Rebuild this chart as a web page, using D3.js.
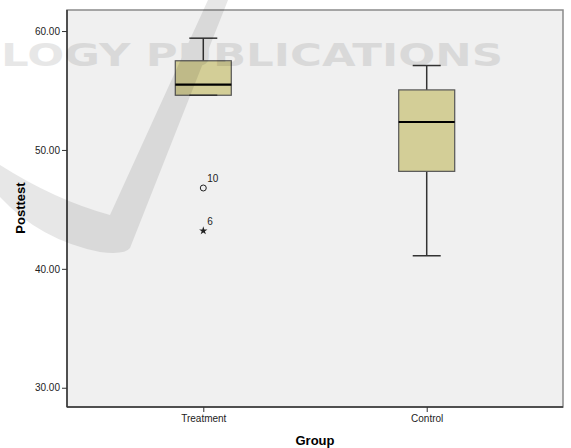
<!DOCTYPE html>
<html>
<head>
<meta charset="utf-8">
<script src="https://cdn.jsdelivr.net/npm/d3@7"></script>
<style>
  body { margin: 0; background: #fff; }
  svg { display: block; font-family: "Liberation Sans", Arial, sans-serif; }
</style>
</head>
<body>
<div id="container"></div>
<script>
var width = 571;
var height = 448;

// values
var groups = ["Treatment", "Control"];
var whiskerLow = [54.6, 41.1];
var q1 = [54.6, 48.2];
var median = [55.5, 52.35];
var q3 = [57.5, 55.05];
var whiskerHigh = [59.4, 57.1];

var outlierGroup = ["Treatment", "Treatment"];
var outlierValue = [46.8, 43.2];
var outlierLabel = ["10", "6"];
var outlierKind = ["circle", "star"];

var yTicks = [30, 40, 50, 60];

var plot = { left: 67, top: 10, right: 563, bottom: 407 };

var y = d3.scaleLinear()
    .domain([28.38, 61.77])
    .range([plot.bottom, plot.top]);

var x = d3.scalePoint()
    .domain(groups)
    .range([plot.left, plot.right])
    .padding(0.61);

var boxW = 56;

var svg = d3.create("svg")
    .attr("width", width)
    .attr("height", height);

// plot background
svg.append("rect")
    .attr("x", plot.left)
    .attr("y", plot.top)
    .attr("width", plot.right - plot.left)
    .attr("height", plot.bottom - plot.top)
    .attr("fill", "#f0f0f0")
    .attr("stroke", "#8a8a8a")
    .attr("stroke-width", 1.5);

// boxes
var data = groups.map(function(g, i) {
    return { g: g, lo: whiskerLow[i], q1: q1[i], med: median[i], q3: q3[i], hi: whiskerHigh[i] };
});

var box = svg.selectAll(".box").data(data).enter().append("g")
    .attr("class", "box")
    .attr("transform", function(d) { return "translate(" + x(d.g) + ",0)"; });

box.append("line")
    .attr("x1", 0).attr("x2", 0)
    .attr("y1", function(d) { return y(d.hi); })
    .attr("y2", function(d) { return y(d.lo); })
    .attr("stroke", "#333").attr("stroke-width", 1.5);

box.append("rect")
    .attr("x", -boxW / 2)
    .attr("width", boxW)
    .attr("y", function(d) { return y(d.q3); })
    .attr("height", function(d) { return y(d.q1) - y(d.q3); })
    .attr("fill", "#d3ce97")
    .attr("stroke", "#555")
    .attr("stroke-width", 1.2);

box.selectAll(".cap")
    .data(function(d) { return [d.lo, d.hi]; })
    .enter().append("line")
    .attr("class", "cap")
    .attr("x1", -boxW / 4).attr("x2", boxW / 4)
    .attr("y1", function(v) { return y(v); })
    .attr("y2", function(v) { return y(v); })
    .attr("stroke", "#333").attr("stroke-width", 1.5);

box.append("line")
    .attr("x1", -boxW / 2).attr("x2", boxW / 2)
    .attr("y1", function(d) { return y(d.med); })
    .attr("y2", function(d) { return y(d.med); })
    .attr("stroke", "#000").attr("stroke-width", 2.2);

// outliers
var outliers = outlierValue.map(function(v, i) {
    return { g: outlierGroup[i], v: v, label: outlierLabel[i], kind: outlierKind[i] };
});

var out = svg.selectAll(".out").data(outliers).enter().append("g")
    .attr("class", "out")
    .attr("transform", function(d) { return "translate(" + x(d.g) + "," + y(d.v) + ")"; });

out.filter(function(d) { return d.kind == "circle"; })
    .append("circle")
    .attr("r", 3)
    .attr("fill", "none")
    .attr("stroke", "#222")
    .attr("stroke-width", 1);

out.filter(function(d) { return d.kind == "star"; })
    .append("path")
    .attr("d", d3.symbol().type(d3.symbolStar).size(22))
    .attr("fill", "#222");

out.append("text")
    .attr("x", 4)
    .attr("y", -6)
    .attr("font-size", 10)
    .attr("fill", "#222")
    .text(function(d) { return d.label; });

// axes
var yAxis = svg.append("g")
    .attr("transform", "translate(" + plot.left + ",0)")
    .call(d3.axisLeft(y).tickValues(yTicks).tickFormat(d3.format(".2f")).tickSize(5).tickPadding(2));

var xAxis = svg.append("g")
    .attr("transform", "translate(0," + plot.bottom + ")")
    .call(d3.axisBottom(x).tickSize(5).tickPadding(3));

[yAxis, xAxis].forEach(function(a) {
    a.select(".domain").attr("stroke", "#333").attr("stroke-width", 1.5);
    a.selectAll(".tick line").attr("stroke", "#333");
    a.selectAll(".tick text").attr("font-size", 10)
        .attr("font-family", "Liberation Sans, Arial, sans-serif").attr("fill", "#222");
});
yAxis.select(".domain").attr("d", "M0," + plot.top + "V" + plot.bottom);
xAxis.select(".domain").attr("d", "M" + plot.left + ",0H" + plot.right);

svg.append("text")
    .attr("transform", "translate(25,208) rotate(-90)")
    .attr("text-anchor", "middle")
    .attr("font-size", 13)
    .attr("font-weight", "bold")
    .text("Posttest");

svg.append("text")
    .attr("x", 315)
    .attr("y", 445)
    .attr("text-anchor", "middle")
    .attr("font-size", 13)
    .attr("font-weight", "bold")
    .text("Group");

// watermark overlay
var wm = svg.append("g").attr("opacity", 0.09);
wm.append("path")
    .attr("d", "M208,0 L228,0 L130,248 Q125,255 100,252 Q40,240 0,197 L0,165 Q55,200 110,215 Z")
    .attr("fill", "#000");
wm.append("text")
    .attr("x", 1)
    .attr("y", 66)
    .attr("font-family", "DejaVu Sans, sans-serif")
    .attr("font-weight", "bold")
    .attr("font-size", 32)
    .attr("textLength", 502)
    .attr("lengthAdjust", "spacingAndGlyphs")
    .attr("fill", "#000")
    .text("LOGY PUBLICATIONS");

document.getElementById("container").append(svg.node());
</script>
</body>
</html>
